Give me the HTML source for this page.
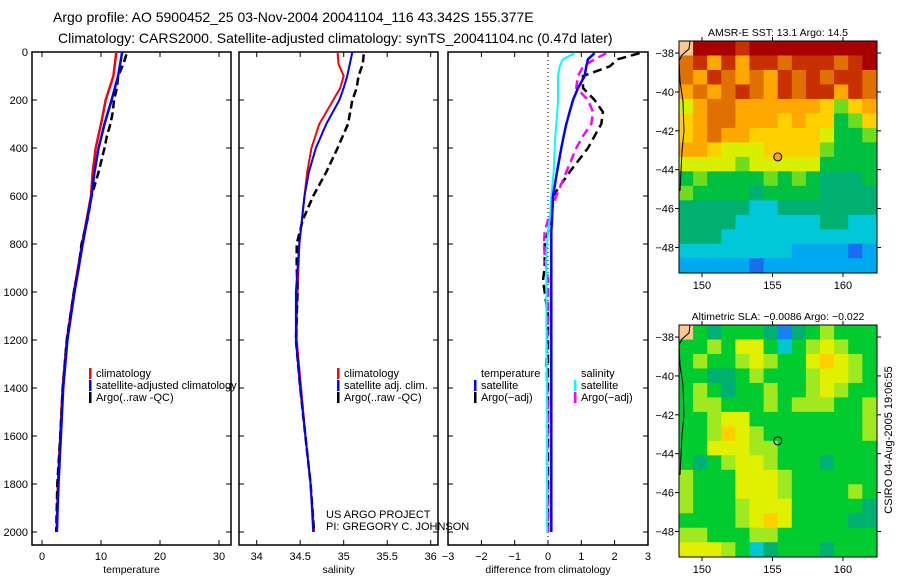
<!DOCTYPE html>
<html><head><meta charset="utf-8"><style>
html,body{margin:0;padding:0;background:#fff;}
svg{display:block;font-family:"Liberation Sans",sans-serif;}
text{fill:#000;}
</style></head><body>
<svg id="c" width="900" height="580" viewBox="0 0 900 580" xmlns="http://www.w3.org/2000/svg">
<text x="53" y="22" font-size="14">Argo profile: AO 5900452_25 03-Nov-2004 20041104_116 43.342S 155.377E</text>
<text x="58" y="43" font-size="14">Climatology: CARS2000. Satellite-adjusted climatology: synTS_20041104.nc (0.47d later)</text>
</svg>
<script>
// ---------- data ----------
const tempDepth = [0,100,200,300,400,500,600,800,1000,1200,1400,1600,1800,2000];
const tempClim  = [12.6,12.1,10.8,10.0,9.1,8.6,8.3,6.8,5.4,4.2,3.5,3.1,2.7,2.5];
const tempSat   = [13.6,12.9,11.8,10.6,9.6,8.9,8.4,6.9,5.5,4.3,3.6,3.2,2.8,2.5];
const argoDepth = [10,50,100,150,200,250,300,350,400,500,600,700,800,900,1000,1200,1400,1600,1800,2000];
const argoTemp  = [14.3,13.8,12.9,12.7,12.2,12.0,11.6,11.0,10.6,9.6,8.4,7.7,6.7,6.2,5.4,4.2,3.5,3.1,2.6,2.4];
const salDepth  = [0,50,100,150,200,300,400,500,600,700,800,900,1000,1100,1200,1400,1600,1800,2000];
const salClim   = [34.93,34.94,35.0,34.96,34.88,34.72,34.63,34.58,34.55,34.52,34.49,34.48,34.47,34.46,34.46,34.51,34.56,34.62,34.66];
const salSat    = [35.1,35.07,35.04,35.0,34.95,34.8,34.68,34.6,34.55,34.52,34.49,34.47,34.45,34.45,34.45,34.5,34.56,34.62,34.65];
const argoSalDepth = [10,50,100,150,200,300,400,500,600,700,800,900,1000,1100,1200,1400,1600,1800,2000];
const argoSal   = [35.23,35.22,35.17,35.15,35.1,35.05,34.93,34.8,34.65,34.53,34.46,34.46,34.47,34.46,34.45,34.5,34.56,34.62,34.66];
const diffDepth = [5,30,60,100,150,200,250,300,350,400,500,600,700,750,800,850,900,950,1000,1100,1300,1500,1700,2000];
const diffTempSat  = [1.4,1.2,1.15,1.1,0.9,0.75,0.65,0.55,0.47,0.4,0.27,0.15,0.12,0.1,0.1,0.1,0.1,0.1,0.1,0.1,0.1,0.1,0.1,0.1];
const diffSalSat   = [0.8,0.45,0.35,0.3,0.3,0.3,0.28,0.25,0.22,0.2,0.17,0.1,0.05,0.0,-0.03,-0.05,-0.05,-0.05,-0.05,-0.05,-0.04,-0.03,-0.03,-0.03];
const diffTempArgo = [2.75,2.1,1.85,1.05,1.05,1.4,1.65,1.6,1.4,1.2,0.65,0.15,0.1,0.0,-0.1,-0.1,-0.1,-0.15,-0.1,0.0,0.0,0.0,0.0,0.0];
const diffSalArgo  = [1.75,1.4,1.05,0.9,0.85,1.2,1.35,1.3,1.05,0.85,0.55,0.25,0.0,-0.1,-0.12,-0.1,-0.05,0.0,0.0,0.0,-0.05,0.0,-0.03,0.0];
const depthTicks = [0,200,400,600,800,1000,1200,1400,1600,1800,2000];
const tempTicks = [0,10,20,30];
const salTicks = [34,34.5,35,35.5,36];
const salTickLabels = ["34","34.5","35","35.5","36"];
const diffTicks = [-3,-2,-1,0,1,2,3];
const diffTickLabels = ["\u22123","\u22122","\u22121","0","1","2","3"];
const latTicks = [-38,-40,-42,-44,-46,-48];
const latTickLabels = ["\u221238","\u221240","\u221242","\u221244","\u221246","\u221248"];
const lonTicks = [150,155,160];
const sstGrid = ["Lbbbabbbbbbbbb","9a8a8aa9aaa9ab","98a9898a9a9aa9","8989a98a9aa8a9","68998888887578","78998887877457","78988777776445","88766677775444","66665666664444","45444454543334","54444344443333","33333223333333","33332222223322","33322222222222","22222222111101","11111011111111"];
const slaGrid = ["L4344431345444","44546642456544","45445654467654","44334544456654","45434454456544","45544454555445","44566444444445","44576544444445","44666554444444","43456654443444","54446665444444","54446665444454","54445666444443","44445676444433","55444554444444","66654234443444"];
const gridLon0 = 148.37, gridLat0 = -37.38, gridDLon = 1.0, gridDLat = 0.745;
const floatLon = 155.377, floatLat = -43.342;

// ---------- helpers ----------
const svg = document.getElementById('c');
const NS = 'http://www.w3.org/2000/svg';
function mk(tag, attrs, parent){ const e=document.createElementNS(NS,tag); for(const k in attrs) e.setAttribute(k,attrs[k]); (parent||svg).appendChild(e); return e; }
function txt(x,y,s,size,anchor,parent){ const t=mk('text',{x:x,y:y,'font-size':size,'text-anchor':anchor||'start'},parent); t.textContent=s; return t; }

const yTop=52, yPer=0.24, pTop=52, pBot=545;
const yD = d => yTop + d*yPer;
const panels = [
  {l:32,r:231, x:v=>42+(v-0)*5.9, ticks:tempTicks, labels:tempTicks.map(String), title:'temperature', name:'temperature-panel'},
  {l:239,r:438, x:v=>256.7+(v-34)*87, ticks:salTicks, labels:salTickLabels, title:'salinity', name:'salinity-panel'},
  {l:448,r:648, x:v=>548+v*33.3, ticks:diffTicks, labels:diffTickLabels, title:'difference from climatology', name:'difference-panel'}
];
panels.forEach((p,i)=>{
  const g=mk('g',{});
  
  
  mk('rect',{x:p.l,y:pTop,width:p.r-p.l,height:pBot-pTop,fill:'none',stroke:'#000','stroke-width':1.5},g);
  depthTicks.forEach(d=>{
    const y=yD(d);
    mk('line',{x1:p.l,y1:y,x2:p.l+5,y2:y,stroke:'#000'},g);
    mk('line',{x1:p.r,y1:y,x2:p.r-5,y2:y,stroke:'#000'},g);
    if(i===0){ const t=txt(28,y+4,String(d),11,'end',g);
      
       }
  });
  p.ticks.forEach((v,k)=>{
    const x=p.x(v);
    mk('line',{x1:x,y1:pBot,x2:x,y2:pBot-5,stroke:'#000'},g);
    mk('line',{x1:x,y1:pTop,x2:x,y2:pTop+5,stroke:'#000'},g);
    const t=txt(x,560,p.labels[k],11,'middle',g);
    
    
  });
  const at=txt((p.l+p.r)/2,573,p.title,10.5,'middle',g);
  
  
});
// zero dotted line
mk('line',{x1:548,y1:pTop,x2:548,y2:pBot,stroke:'#000','stroke-dasharray':'1,3'});

function line(p,vals,depths,color,dash,w,name){
  const pts=vals.map((v,i)=>p.x(v).toFixed(1)+','+yD(depths[i]).toFixed(1)).join(' ');
  const e=mk('polyline',{points:pts,fill:'none',stroke:color,'stroke-width':w,'stroke-dasharray':dash||'none'});
  
  
}
line(panels[0],tempClim,tempDepth,'#f00','',2.5,'temp-climatology-line');
line(panels[0],argoTemp,argoDepth,'#000','8,4',2.5,'temp-argo-line');
line(panels[0],tempSat,tempDepth,'#00f','',2.5,'temp-satellite-line');
line(panels[1],salClim,salDepth,'#f00','',2,'sal-climatology-line');
line(panels[1],argoSal,argoSalDepth,'#000','8,4',2.5,'sal-argo-line');
line(panels[1],salSat,salDepth,'#00f','',2,'sal-satellite-line');
line(panels[2],diffTempArgo,diffDepth,'#000','9,5',2.5,'diff-temp-argo-line');
line(panels[2],diffSalArgo,diffDepth,'#f0f','9,5',2.5,'diff-sal-argo-line');
line(panels[2],diffSalSat,diffDepth,'#0ff','',2,'diff-sal-satellite-line');
line(panels[2],diffTempSat,diffDepth,'#00f','',2.5,'diff-temp-satellite-line');

function legend(x,y,items,name){
  const g=mk('g',{});
  
  
  items.forEach((it,i)=>{
    const yy=y+i*12;
    if(it[1]) mk('rect',{x:x,y:yy-8,width:2.5,height:11,fill:it[1]},g);
    txt(x+7,yy+1,it[0],11,'start',g);
  });
}
legend(89,376,[['climatology','#f00'],['satellite-adjusted climatology','#00f'],['Argo(..raw -QC)','#000']],'temperature-legend');
legend(337,376,[['climatology','#f00'],['satellite adj. clim.','#00f'],['Argo(..raw -QC)','#000']],'salinity-legend');
legend(474,376,[['temperature',null],['satellite','#00f'],['Argo(\u2212adj)','#000']],'diff-temperature-legend');
legend(574,376,[['salinity',null],['satellite','#0ff'],['Argo(\u2212adj)','#f0f']],'diff-salinity-legend');
txt(326,518,'US ARGO PROJECT',11);
txt(326,530,'PI: GREGORY C. JOHNSON',11);

// ---------- maps ----------
const sstColors={'0':'#1a6cf0','1':'#00a8f0','2':'#00c8d8','3':'#00b070','4':'#00c040','5':'#70dc20','6':'#d8f000','7':'#ffd000','8':'#ffa800','9':'#e07000','a':'#c83000','b':'#a80000','L':'#ffc890'};
const slaColors={'0':'#1a6cf0','1':'#1a80f0','2':'#00c8d0','3':'#00b070','4':'#00cc30','5':'#a0e820','6':'#e0f000','7':'#ffd000','L':'#ffc890'};
function drawMap(top,grid,colors,title,name,filled){
  const L=679,R=877,T=top,B=top+232;
  const lx=lon=>L+(lon-gridLon0)*14.1, ly=lat=>T+(gridLat0-lat)*19.44;
  const g=mk('g',{});
  
  
  grid.forEach((row,r)=>{ for(let c=0;c<row.length;c++){
    const x0=lx(gridLon0+c*gridDLon), x1=Math.min(R,lx(gridLon0+(c+1)*gridDLon));
    const y0=ly(gridLat0-r*gridDLat), y1=Math.min(B,ly(gridLat0-(r+1)*gridDLat));
    const cell=mk('rect',{x:x0,y:y0,width:x1-x0+0.5,height:y1-y0+0.5,fill:colors[row[c]]},g);
    
    
  }});
  mk('polyline',{points:`${L+11},${T} ${L+10},${T+8} ${L+3},${T+14} ${L},${T+20} ${L+1},${T+40} ${L+4},${T+60} ${L+5},${T+90} ${L+3},${T+110} ${L+2},${T+130} ${L+1},${T+150}`,fill:'none',stroke:'#000','stroke-width':1},g);
  mk('rect',{x:L,y:T,width:R-L,height:B-T,fill:'none',stroke:'#000','stroke-width':1},g);
  latTicks.forEach((v,k)=>{ const y=ly(v);
    mk('line',{x1:L-4,y1:y,x2:L,y2:y,stroke:'#000'},g);
    mk('line',{x1:R,y1:y,x2:R+4,y2:y,stroke:'#000'},g);
    txt(L-5,y+4,latTickLabels[k],11,'end',g); });
  lonTicks.forEach(v=>{ const x=lx(v);
    mk('line',{x1:x,y1:T-4,x2:x,y2:T,stroke:'#000'},g);
    mk('line',{x1:x,y1:B,x2:x,y2:B+4,stroke:'#000'},g);
    txt(x,B+16,String(v),11,'middle',g); });
  txt((L+R)/2,T-5,title,10.5,'middle',g);
  const m=mk('circle',{cx:lx(floatLon),cy:ly(floatLat),r:4,fill:filled?'#ffa020':'none',stroke:'#000','stroke-width':1},g);
  
  
}
drawMap(41,sstGrid,sstColors,'AMSR-E SST: 13.1 Argo: 14.5','sst-map',true);
drawMap(325,slaGrid,slaColors,'Altimetric SLA: \u22120.0086 Argo: \u22120.022','sla-map',false);
const ts=txt(0,0,'CSIRO 04-Aug-2005 19:06:55',11,'middle');
ts.setAttribute('transform','translate(892,440) rotate(-90)');


</script>
</body></html>
